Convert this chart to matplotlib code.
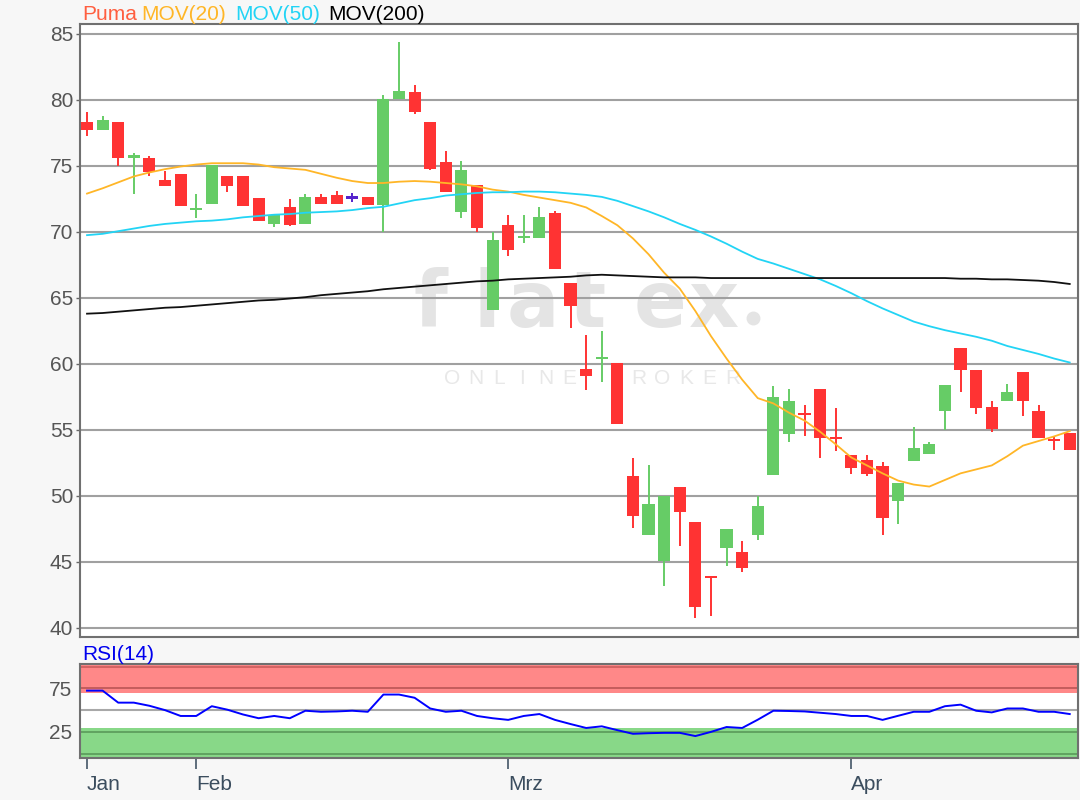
import matplotlib
matplotlib.use("Agg")
import matplotlib.pyplot as plt
import numpy as np
import pandas as pd

# ---------------- data ----------------
dates = pd.bdate_range("2020-01-23", "2020-04-23")
dates = dates[~dates.isin(pd.to_datetime(["2020-04-10", "2020-04-13"]))]
month_names = {1: "Jan", 2: "Feb", 3: "Mrz", 4: "Apr"}

opens = [78.3, 77.75, 78.3, 75.6, 75.6, 73.9, 74.35, 71.7, 72.1, 74.2,
         74.2, 72.55, 70.6, 71.9, 70.6, 72.65, 72.8, 72.6, 72.65, 72.0,
         80.1, 80.6, 78.3, 75.3, 71.5, 73.55, 64.1, 70.55, 69.55, 69.55,
         71.45, 66.15, 59.6, 60.4, 60.1, 51.5, 47.0, 45.05, 50.7, 48.0,
         43.85, 46.05, 45.75, 47.0, 51.55, 54.7, 56.25, 58.1, 54.45, 53.1,
         52.7, 52.25, 49.6, 52.6, 53.2, 56.4, 61.2, 59.5, 56.75, 57.15,
         59.35, 56.45, 54.3, 54.75]
highs = [79.1, 78.8, 78.3, 76.0, 75.75, 74.6, 74.35, 72.85, 75.1, 74.2,
         74.2, 72.55, 71.25, 72.5, 72.9, 72.85, 73.1, 72.95, 72.65, 80.4,
         84.35, 81.15, 78.3, 76.15, 75.4, 73.55, 70.0, 71.3, 71.3, 71.9,
         71.6, 66.15, 62.2, 62.5, 60.1, 52.85, 52.35, 50.0, 50.7, 48.0,
         43.85, 47.5, 46.6, 50.0, 58.3, 58.1, 56.9, 58.1, 56.65, 53.1,
         53.1, 52.55, 51.0, 55.25, 54.05, 58.4, 61.2, 59.5, 57.2, 58.45,
         59.35, 56.9, 54.5, 54.75]
lows = [77.3, 77.7, 75.0, 72.9, 74.2, 73.45, 71.95, 71.05, 72.1, 73.0,
        71.95, 70.8, 70.4, 70.45, 70.6, 72.1, 72.1, 72.25, 72.0, 70.0,
        80.1, 78.95, 74.65, 73.0, 71.05, 70.0, 64.1, 68.2, 69.15, 69.55,
        67.15, 62.7, 58.0, 58.65, 55.45, 47.55, 47.0, 43.2, 46.2, 40.75,
        40.9, 44.7, 44.25, 46.65, 51.55, 54.1, 54.5, 52.9, 53.4, 51.65,
        51.5, 47.0, 47.9, 52.6, 53.2, 55.0, 57.85, 56.2, 54.85, 57.15,
        56.05, 54.4, 53.5, 53.5]
closes = [77.7, 78.45, 75.6, 75.85, 74.55, 73.45, 71.95, 71.8, 75.1, 73.5,
          71.95, 70.8, 71.25, 70.5, 72.65, 72.1, 72.1, 72.6, 72.0, 80.1,
          80.7, 79.1, 74.8, 73.0, 74.65, 70.3, 69.35, 68.65, 69.65, 71.1,
          67.15, 64.4, 59.1, 60.45, 55.45, 48.5, 49.35, 50.0, 48.8, 41.55,
          43.8, 47.5, 44.55, 49.2, 57.5, 57.2, 56.1, 54.4, 54.35, 52.1,
          51.65, 48.35, 51.0, 53.6, 53.9, 58.4, 59.55, 56.65, 55.05, 57.85,
          57.15, 54.4, 54.2, 53.5]

mov20 = [72.9, 73.3, 73.75, 74.2, 74.5, 74.75, 74.95, 75.1, 75.2, 75.2,
         75.2, 75.1, 74.9, 74.8, 74.7, 74.4, 74.1, 73.85, 73.7, 73.7,
         73.8, 73.85, 73.8, 73.7, 73.6, 73.45, 73.2, 73.05, 72.8, 72.6,
         72.4, 72.2, 71.85, 71.2, 70.5, 69.5, 68.3, 66.9, 65.7, 64.0,
         62.1, 60.4, 58.8, 57.4, 57.0, 56.3, 55.7, 54.85, 53.9, 52.9,
         52.3, 51.7, 51.15, 50.85, 50.7, 51.2, 51.7, 52.0, 52.3, 53.0,
         53.8, 54.15, 54.5, 54.9]
mov50 = [69.75, 69.85, 70.05, 70.25, 70.45, 70.6, 70.7, 70.8, 70.85, 70.95,
         71.1, 71.2, 71.3, 71.35, 71.45, 71.5, 71.55, 71.65, 71.8, 71.9,
         72.15, 72.4, 72.55, 72.75, 72.85, 72.95, 73.0, 73.0, 73.05, 73.05,
         73.0, 72.9, 72.8, 72.65, 72.35, 71.95, 71.55, 71.1, 70.6, 70.15,
         69.65, 69.1, 68.5, 67.95, 67.6, 67.2, 66.8, 66.4, 65.9, 65.35,
         64.75, 64.2, 63.7, 63.2, 62.85, 62.55, 62.3, 62.05, 61.75, 61.35,
         61.05, 60.75, 60.4, 60.1]
mov200 = [63.8, 63.85, 63.95, 64.05, 64.15, 64.25, 64.3, 64.4, 64.5, 64.6,
          64.7, 64.8, 64.85, 64.95, 65.05, 65.2, 65.3, 65.4, 65.5, 65.65,
          65.75, 65.85, 65.95, 66.05, 66.15, 66.25, 66.3, 66.4, 66.45, 66.5,
          66.55, 66.6, 66.7, 66.75, 66.7, 66.65, 66.6, 66.55, 66.55, 66.55,
          66.5, 66.5, 66.5, 66.5, 66.5, 66.5, 66.5, 66.5, 66.5, 66.5,
          66.5, 66.5, 66.5, 66.5, 66.5, 66.5, 66.45, 66.45, 66.4, 66.4,
          66.35, 66.3, 66.2, 66.05]
rsi14 = [72.4, 72.4, 58.6, 58.6, 55.0, 50.0, 43.3, 43.3, 54.5, 50.5,
         45.0, 40.7, 43.3, 40.7, 49.3, 48.1, 48.5, 49.3, 48.1, 67.9,
         67.9, 64.2, 51.9, 48.1, 49.3, 43.3, 40.7, 38.8, 43.3, 45.5,
         38.8, 34.0, 29.5, 31.4, 27.0, 22.8, 23.5, 23.9, 23.9, 20.2,
         25.0, 30.6, 29.5, 39.0, 49.3, 49.0, 48.5, 47.0, 45.5, 43.3,
         43.3, 38.8, 43.5, 48.1, 48.1, 54.5, 56.3, 49.3, 47.4, 51.9,
         51.9, 48.1, 48.1, 45.5]

# ---------------- style ----------------
FONT = "Liberation Sans"
plt.rcParams["font.family"] = [FONT, "DejaVu Sans"]
BG = "#f7f7f7"
RED = "#ff3333"
GREEN = "#66cc66"
DOJI = "#5522cc"
C20 = "#ffb627"
C50 = "#22d4f5"
C200 = "#111111"
FS = 15

W, H = 1080, 800
fig = plt.figure(figsize=(W / 100, H / 100), dpi=100, facecolor=BG)
ax = fig.add_axes([80 / W, 1 - 637 / H, 998 / W, 613 / H])
ax2 = fig.add_axes([80 / W, 1 - 758 / H, 998 / W, 94 / H], sharex=ax)

x = np.arange(len(closes))
o = np.array(opens)
c = np.array(closes)
hi = np.array(highs)
lo = np.array(lows)

cols = np.where(c > o, GREEN, np.where(c < o, RED, DOJI))
bottom = np.minimum(o, c)
height = np.abs(c - o)
min_h = 0.16
small = height < min_h
bottom = np.where(small, (o + c) / 2 - min_h / 2, bottom)
height = np.where(small, min_h, height)

# watermark
wm = "#e4e4e4"
def fx(px):
    return (px - 80) / 998
def fy(py):
    return (637 - py) / 613
for ch, px in zip("flatex", [430, 487, 533, 588, 660, 714]):
    ax.text(fx(px), fy(305), ch, transform=ax.transAxes, ha="center", va="center",
            fontsize=56, color=wm, fontweight="bold", family="DejaVu Sans", zorder=0.1)
ax.plot([fx(753)], [fy(318)], transform=ax.transAxes, marker="o", ms=9, color=wm,
        zorder=0.1, clip_on=False)
for k, ch in enumerate("ONLINE BROKER"):
    if ch != " ":
        ax.text(fx(452 + 23.4 * k), fy(378), ch, transform=ax.transAxes,
                ha="center", va="center", fontsize=15, color="#e8e8e8", zorder=0.1)

ax.vlines(x, lo, hi, colors=cols, lw=1.4, zorder=3)
ax.bar(x, height, bottom=bottom, width=0.78, color=cols, linewidth=0, zorder=4)

ax.plot(x, mov20, color=C20, lw=1.3, zorder=5)
ax.plot(x, mov50, color=C50, lw=1.3, zorder=5)
ax.plot(x, mov200, color=C200, lw=1.3, zorder=5)

ax.set_xlim(-0.45, 63.53)
ax.set_ylim(39.3, 85.75)
ax.set_yticks(range(40, 90, 5))
ax.set_facecolor("white")
ax.grid(axis="y", color="#a0a0a0", lw=1.5)
ax.set_axisbelow(True)
ax.tick_params(axis="y", length=3, width=1, color="#666666", labelsize=FS,
               labelcolor="#555555", pad=2)
ax.tick_params(axis="x", bottom=False, labelbottom=False)
for s in ax.spines.values():
    s.set_color("#707070")
    s.set_linewidth(1.5)

# legend text at top
for txt, px, col in [("Puma", 82, "#ff5f40"), ("MOV(20)", 141, C20),
                     ("MOV(50)", 235, C50), ("MOV(200)", 328, "#000000")]:
    fig.text(px / W, 1 - 14 / H, txt, color=col, fontsize=FS, ha="left", va="center")

# ---------------- RSI panel ----------------
ax2.set_facecolor("white")
ax2.set_ylim(-5, 103)
ax2.axhspan(70, 103, color="#ff8888", lw=0, zorder=0.2)
ax2.axhspan(-5, 30, color="#88d888", lw=0, zorder=0.2)
ax2.axhline(100, color="#cc5c5c", lw=1.2, zorder=0.3)
ax2.axhline(75, color="#bb5555", lw=1.2, zorder=0.3)
ax2.axhline(50, color="#a8a8a8", lw=1.5, zorder=0.3)
ax2.axhline(25, color="#5a9a5a", lw=1.2, zorder=0.3)
ax2.axhline(0, color="#5a9a5a", lw=1.2, zorder=0.3)
ax2.plot(x, rsi14, color="#0000ff", lw=1.4, zorder=3)
ax2.set_yticks([25, 75])
ax2.tick_params(axis="y", length=0, labelsize=FS, labelcolor="#555555", pad=6)
fig.text(82 / W, 1 - 655 / H, "RSI(14)", color="#0000ee", fontsize=FS,
         ha="left", va="center")

month_idx = [0] + [i for i in range(1, len(dates)) if dates[i].month != dates[i - 1].month]
ax2.set_xticks(month_idx)
ax2.set_xticklabels([month_names[dates[i].month] for i in month_idx], ha="left")
ax2.tick_params(axis="x", length=8, width=1.2, color="#445566", labelsize=FS,
                labelcolor="#3b4d5e", pad=4)
for s in ax2.spines.values():
    s.set_color("#707070")
    s.set_linewidth(1.5)

fig.savefig("out.png", dpi=100, facecolor=BG)
